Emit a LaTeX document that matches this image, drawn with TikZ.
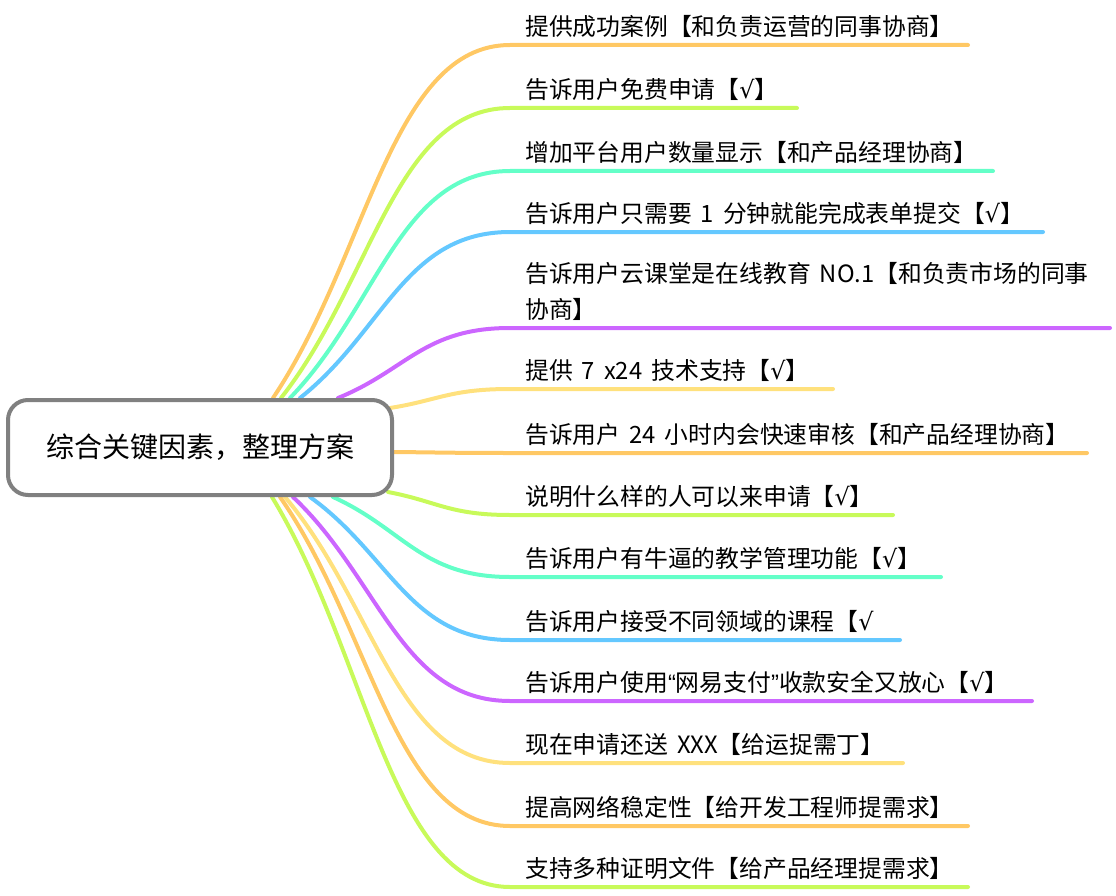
\documentclass[tikz,border=0pt]{standalone}
\usepackage{fontspec}
\setmainfont[WordSpace=1.7]{Noto Sans CJK SC}
\newfontfamily\symf{DejaVu Sans}
\newfontfamily\latf{Liberation Sans}
\newcommand{\ck}{{\symf √}}
\usetikzlibrary{calc}
\definecolor{corange}{RGB}{255,200,100}
\definecolor{clime}{RGB}{200,250,90}
\definecolor{cmint}{RGB}{100,255,200}
\definecolor{csky}{RGB}{100,200,255}
\definecolor{cpurple}{RGB}{204,102,255}
\definecolor{cyellow}{RGB}{255,225,125}
\definecolor{cgray}{RGB}{128,128,128}
\tikzset{
  rootbox/.style={draw=cgray, line width=4pt, rounded corners=20pt, fill=white,
    minimum width=384pt, minimum height=95pt, inner sep=0pt,
    font=\fontsize{28}{32}\selectfont},
  leaf/.style={anchor=base west, inner sep=0pt, font=\fontsize{23.8}{36}\selectfont},
  branch/.style={line width=4pt, line cap=round}
}
\begin{document}
\begin{tikzpicture}[x=1pt,y=-1pt]
\useasboundingbox (0,0) rectangle (1116,896);
% start points on root
\coordinate (s1) at (273,398);
\coordinate (s2) at (281,398);
\coordinate (s3) at (290,398);
\coordinate (s4) at (300,398);
\coordinate (s5) at (338,398);
\coordinate (s6) at (390,408);
\coordinate (s7) at (392,452);
\coordinate (s8) at (388,492);
\coordinate (s9) at (333,497);
\coordinate (s10) at (310,497);
\coordinate (s11) at (293,497);
\coordinate (s12) at (285,497);
\coordinate (s13) at (280,497);
\coordinate (s14) at (272,497);
% end points of curves / underlines
\foreach \i/\y/\ex in {1/45/968,2/108/797,3/171/993,4/232/1043,5/328/1110,6/389/833,7/453/1087,8/515/893,9/577/941,10/640/900,11/701/1032,12/763/903,13/826/968,14/887/968}{
  \coordinate (e\i) at (510,\y);
  \coordinate (u\i) at (\ex,\y);
}
\foreach \i/\c in {1/corange,2/clime,3/cmint,4/csky,5/cpurple,6/cyellow,7/corange,8/clime,9/cmint,10/csky,11/cpurple,12/cyellow,13/corange,14/clime}{
  \draw[branch, \c] let \p1=(s\i), \p2=(e\i) in
    (s\i) .. controls ($(s\i)!0.4!(e\i)$) and ({\x2-0.5*(\x2-\x1)},\y2) .. (e\i) -- (u\i);
}
\node[rootbox] (root) at (200,447.5) {综合关键因素，整理方案};
% leaf texts
\node[leaf] (t1) at (525,35.5) {提供成功案例【和负责运营的同事协商】};
\node[leaf] (t2) at (525,98.5) {告诉用户免费申请【\ck】};
\node[leaf] (t3) at (525,161.5) {增加平台用户数量显示【和产品经理协商】};
\node[leaf] (t4) at (525,222.5) {告诉用户只需要 1 分钟就能完成表单提交【\ck】};
\node[leaf] (t5a) at (525,282) {告诉用户云课堂是在线教育 NO.1【和负责市场的同事};
\node[leaf] (t5b) at (525,318) {协商】};
\node[leaf] (t6) at (525,379.5) {提供 7 x24 技术支持【\ck】};
\node[leaf] (t7) at (525,443.5) {告诉用户 24 小时内会快速审核【和产品经理协商】};
\node[leaf] (t8) at (525,505.5) {说明什么样的人可以来申请【\ck】};
\node[leaf] (t9) at (525,567.5) {告诉用户有牛逼的教学管理功能【\ck】};
\node[leaf] (t10) at (525,630.5) {告诉用户接受不同领域的课程【\ck};
\node[leaf] (t11) at (525,691.5) {告诉用户使用{\latf “}网易支付{\latf ”}收款安全又放心【\ck】};
\node[leaf] (t12) at (525,753.5) {现在申请还送 XXX【给运捉需丁】};
\node[leaf] (t13) at (525,816.5) {提高网络稳定性【给开发工程师提需求】};
\node[leaf] (t14) at (525,877.5) {支持多种证明文件【给产品经理提需求】};
\end{tikzpicture}
\end{document}
